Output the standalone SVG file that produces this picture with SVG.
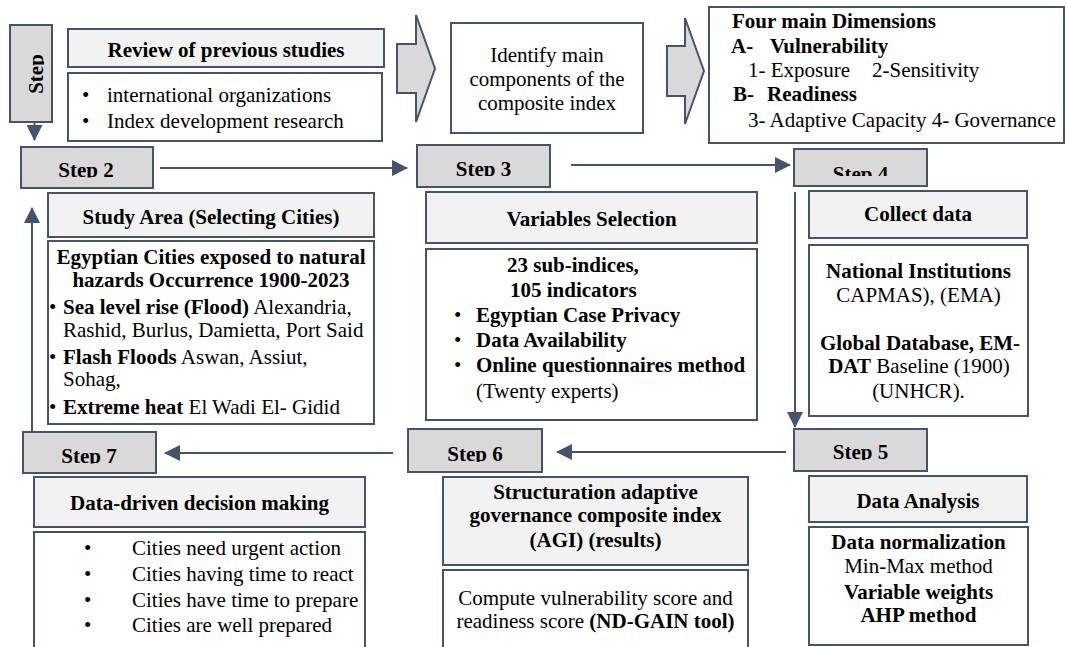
<svg xmlns="http://www.w3.org/2000/svg" width="1066" height="647" viewBox="0 0 1066 647" font-family="'Liberation Serif', 'Times New Roman', Times, serif">
<style>
text{font-family:'Liberation Serif','Times New Roman',Times,serif;font-size:21px;fill:#000}
.b{font-weight:bold}
.c{text-anchor:middle}
.step{fill:#d9d9d9;stroke:#44546a;stroke-width:2}
.hdr{fill:#f2f2f2;stroke:#44546a;stroke-width:2}
.box{fill:#fff;stroke:#44546a;stroke-width:2}
.blk{fill:#d9d9d9;stroke:#44546a;stroke-width:2;stroke-linejoin:miter}
.ln{stroke:#44546a;stroke-width:2;fill:none;marker-end:url(#ah)}
</style>
<defs>
<marker id="ah" markerUnits="userSpaceOnUse" markerWidth="16" markerHeight="16" viewBox="0 0 16 16" refX="15" refY="8" orient="auto"><path d="M0,0 L16,8 L0,16 z" fill="#44546a"/></marker>
<clipPath id="k1"><rect x="10" y="25" width="34" height="97"/></clipPath>
<clipPath id="k2"><rect x="21" y="147" width="132" height="30.5"/></clipPath>
<clipPath id="k3"><rect x="417" y="145" width="133" height="31"/></clipPath>
<clipPath id="k4"><rect x="794" y="149" width="133" height="27"/></clipPath>
<clipPath id="k5"><rect x="794" y="429" width="133" height="31"/></clipPath>
<clipPath id="k6"><rect x="408" y="429" width="134" height="33"/></clipPath>
<clipPath id="k7"><rect x="23" y="432" width="133" height="31.5"/></clipPath>
</defs>
<rect width="1066" height="647" fill="#fff"/>

<g id="connectors">
<polygon class="blk" points="397,44 416,44 416,15 435,68.5 416,122 416,93 397,93"/>
<polygon class="blk" points="667,46 685,46 685,18 704,71 685,124 685,96 667,96"/>
<line class="ln" x1="34.5" y1="122" x2="34.5" y2="140"/>
<line class="ln" x1="160" y1="168" x2="407" y2="168"/>
<line class="ln" x1="571" y1="165" x2="790" y2="165"/>
<line class="ln" x1="795" y1="192" x2="795" y2="427"/>
<line class="ln" x1="786" y1="452" x2="557" y2="452"/>
<line class="ln" x1="393" y1="453" x2="165" y2="453"/>
<line class="ln" x1="32" y1="432" x2="32" y2="208"/>
</g>

<g id="step1">
<rect class="step" x="10" y="25" width="42" height="97"/>
<g clip-path="url(#k1)"><text class="b c" transform="translate(43,74) rotate(-90)">Step</text></g>
</g>

<g id="review">
<rect class="hdr" x="68" y="29" width="316" height="38"/>
<text class="b c" x="226" y="57">Review of previous studies</text>
<rect class="box" x="68" y="73" width="314" height="68"/>
<text x="82" y="102">•</text><text x="107" y="102">international organizations</text>
<text x="82" y="128">•</text><text x="107" y="128">Index development research</text>
</g>

<g id="identify">
<rect class="box" x="451" y="23" width="192" height="110"/>
<text class="c" x="547" y="62">Identify main</text>
<text class="c" x="547" y="86">components of the</text>
<text class="c" x="547" y="110">composite index</text>
</g>

<g id="dimensions">
<rect class="box" x="709" y="7" width="355" height="136"/>
<text class="b" x="732" y="28">Four main Dimensions</text>
<text class="b" x="731" y="53">A-</text><text class="b" x="770" y="53">Vulnerability</text>
<text x="748" y="77">1- Exposure</text><text x="872" y="77">2-Sensitivity</text>
<text class="b" x="733" y="101">B-</text><text class="b" x="767" y="101">Readiness</text>
<text x="748" y="127">3- Adaptive Capacity 4- Governance</text>
</g>

<g id="step2">
<rect class="step" x="21" y="147" width="132" height="41"/>
<text class="b c" clip-path="url(#k2)" x="86" y="177">Step 2</text>
</g>

<g id="step3">
<rect class="step" x="417" y="145" width="133" height="42"/>
<text class="b c" clip-path="url(#k3)" x="483.5" y="176">Step 3</text>
</g>

<g id="step4">
<rect class="step" x="794" y="149" width="133" height="37"/>
<text class="b c" clip-path="url(#k4)" x="860.5" y="181">Step 4</text>
</g>

<g id="study-area">
<rect class="hdr" x="48" y="193" width="326" height="44"/>
<text class="b c" x="211" y="224">Study Area (Selecting Cities)</text>
<rect class="box" x="48" y="241" width="326" height="183"/>
<text class="b c" x="211" y="264">Egyptian Cities exposed to natural</text>
<text class="b c" x="211" y="287">hazards Occurrence 1900-2023</text>
<text x="49" y="314">•</text><text x="63" y="314"><tspan class="b">Sea level rise (Flood)</tspan> Alexandria,</text>
<text x="63" y="337">Rashid, Burlus, Damietta, Port Said</text>
<text x="49" y="364">•</text><text x="63" y="364"><tspan class="b">Flash Floods</tspan> Aswan, Assiut,</text>
<text x="63" y="386">Sohag,</text>
<text x="49" y="414">•</text><text x="63" y="414"><tspan class="b">Extreme heat</tspan> El Wadi El- Gidid</text>
</g>

<g id="variables">
<rect class="hdr" x="426" y="192" width="331" height="51"/>
<text class="b c" x="591.5" y="226">Variables Selection</text>
<rect class="box" x="426" y="249" width="331" height="171"/>
<text class="b" x="507" y="272">23 sub-indices,</text>
<text class="b" x="510" y="297">105 indicators</text>
<text x="454" y="322">•</text><text class="b" x="476" y="322">Egyptian Case Privacy</text>
<text x="454" y="347">•</text><text class="b" x="476" y="347">Data Availability</text>
<text x="454" y="372">•</text><text class="b" x="476" y="372">Online questionnaires method</text>
<text x="476" y="398">(Twenty experts)</text>
</g>

<g id="collect">
<rect class="hdr" x="809" y="191" width="218" height="47"/>
<text class="b c" x="918" y="221">Collect data</text>
<rect class="box" x="809" y="245" width="219" height="171"/>
<text class="b c" x="918.5" y="278">National Institutions</text>
<text class="c" x="918.5" y="302">CAPMAS), (EMA)</text>
<text class="b c" x="920" y="350">Global Database, EM-</text>
<text class="c" x="919" y="373"><tspan class="b">DAT</tspan> Baseline (1900)</text>
<text class="c" x="918.5" y="398">(UNHCR).</text>
</g>

<g id="step5">
<rect class="step" x="794" y="429" width="133" height="42"/>
<text class="b c" clip-path="url(#k5)" x="860.5" y="459">Step 5</text>
</g>

<g id="step6">
<rect class="step" x="408" y="429" width="134" height="43"/>
<text class="b c" clip-path="url(#k6)" x="475" y="461">Step 6</text>
</g>

<g id="step7">
<rect class="step" x="23" y="432" width="133" height="41"/>
<text class="b c" clip-path="url(#k7)" x="89" y="463">Step 7</text>
</g>

<g id="decision">
<rect class="hdr" x="34" y="477" width="331" height="50"/>
<text class="b c" x="199.5" y="510">Data-driven decision making</text>
<rect class="box" x="34" y="532" width="331" height="130"/>
<text x="84" y="555">•</text><text x="132" y="555">Cities need urgent action</text>
<text x="84" y="581">•</text><text x="132" y="581">Cities having time to react</text>
<text x="84" y="607">•</text><text x="132" y="607">Cities have time to prepare</text>
<text x="84" y="632">•</text><text x="132" y="632">Cities are well prepared</text>
</g>

<g id="agi">
<rect class="hdr" x="443" y="477" width="305" height="88"/>
<text class="b c" x="595.5" y="499">Structuration adaptive</text>
<text class="b c" x="595.5" y="522">governance composite index</text>
<text class="b c" x="595.5" y="547">(AGI) (results)</text>
<rect class="box" x="443" y="570" width="305" height="95"/>
<text class="c" x="595.5" y="605">Compute vulnerability score and</text>
<text class="c" x="595.5" y="628">readiness score <tspan class="b">(ND-GAIN tool)</tspan></text>
</g>

<g id="analysis">
<rect class="hdr" x="809" y="476" width="218" height="46"/>
<text class="b c" x="918" y="508">Data Analysis</text>
<rect class="box" x="809" y="527" width="219" height="118"/>
<text class="b c" x="918.5" y="549">Data normalization</text>
<text class="c" x="918.5" y="573">Min-Max method</text>
<text class="b c" x="918.5" y="599">Variable weights</text>
<text class="b c" x="918.5" y="622">AHP method</text>
</g>
</svg>
